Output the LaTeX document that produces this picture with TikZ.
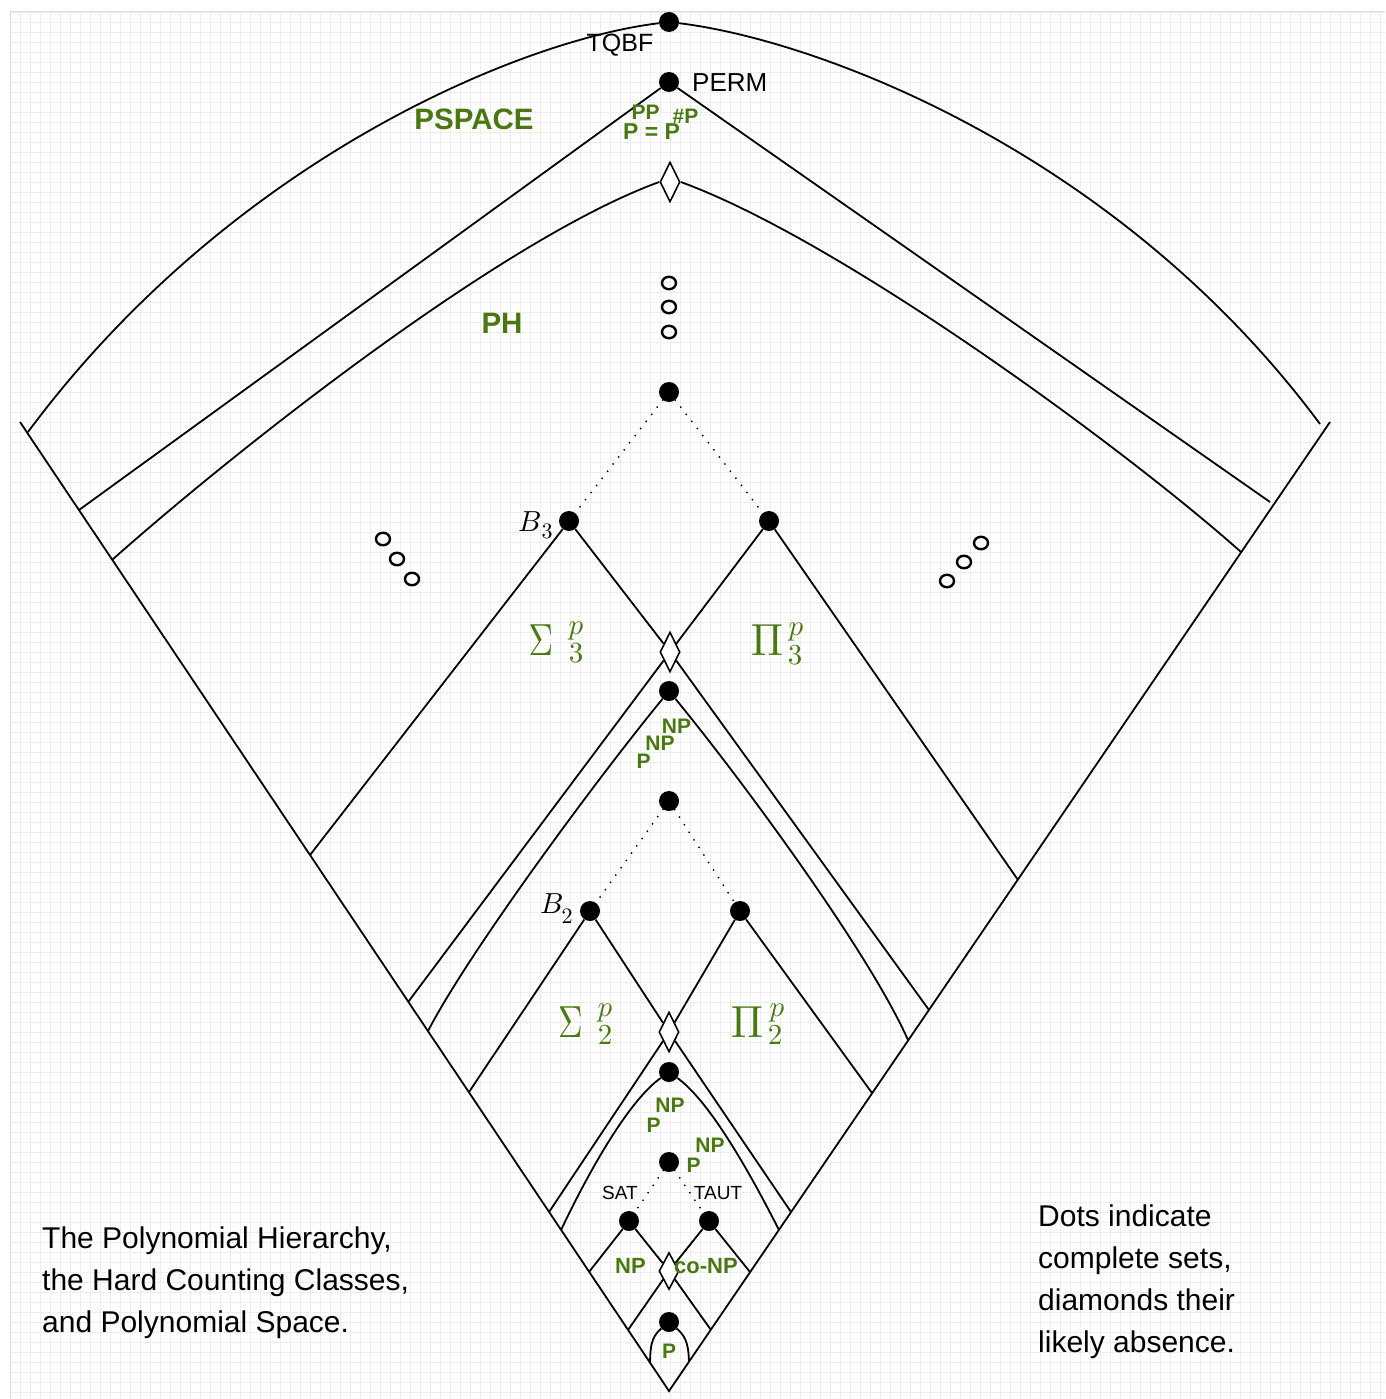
\documentclass[tikz,border=0pt]{standalone}
\usepackage{fontspec}
\setmainfont{Liberation Sans}
\usetikzlibrary{shapes.geometric}
\definecolor{clsgreen}{RGB}{73,120,17}
\begin{document}
\begin{tikzpicture}[x=1pt,y=-1pt,
  dot/.style={circle,fill=black,inner sep=0pt,minimum size=20pt},
  dia/.style={diamond,draw=black,fill=white,line width=1.6pt,inner sep=0pt,minimum width=20pt,minimum height=40pt},
  ring/.style={ellipse,draw=black,line width=2.4pt,inner sep=0pt,minimum width=14pt,minimum height=12.5pt},
  ln/.style={line width=1.8pt},
  dts/.style={line width=2pt,line cap=round,dash pattern=on 0pt off 9pt},
  gridc/.style={black!7,line width=0.9pt},
  lbl/.style={inner sep=0pt,anchor=base},
  cls/.style={inner sep=0pt,anchor=base,text=clsgreen,font=\bfseries\fontsize{21}{21}\selectfont},
  big/.style={inner sep=0pt,anchor=base,text=clsgreen,font=\bfseries\fontsize{29.5}{29.5}\selectfont},
  mth/.style={inner sep=0pt,anchor=base,text=clsgreen},
  scr/.style={inner sep=0pt,text=clsgreen},
  note/.style={inner sep=0pt,anchor=base west,font=\fontsize{30}{30}\selectfont}
]
% background and grid
\fill[white] (0,0) rectangle (1385,1399);
\useasboundingbox (0,0) rectangle (1385,1399);
\foreach \gx in {10,20,...,1380} \draw[gridc] (\gx,12) -- (\gx,1399);
\foreach \gy in {12,22,...,1392} \draw[gridc] (10,\gy) -- (1385,\gy);
\draw[black!13,line width=1pt] (10,1399) -- (10,12) -- (1385,12);

% nodes
\node[dot] (tqbf) at (669,22) {};
\node[dot] (perm) at (669,82) {};
\node[dia] (dtop) at (670,182) {};
\node[ring] (e1) at (669,283) {};
\node[ring] (e2) at (669,307) {};
\node[ring] (e3) at (669,332) {};
\node[ring] (l1) at (383,539) {};
\node[ring] (l2) at (397,559) {};
\node[ring] (l3) at (412,579) {};
\node[ring] (r1) at (981,543) {};
\node[ring] (r2) at (964,562) {};
\node[ring] (r3) at (947,581) {};
\node[dot] (phd) at (669,392) {};
\node[dot] (b3) at (569,521) {};
\node[dot] (pi3) at (769,521) {};
\node[dia] (d3) at (670,652) {};
\node[dot] (pnpnp) at (669,691) {};
\node[dot] (top2) at (669,801) {};
\node[dot] (b2) at (590,911) {};
\node[dot] (pi2) at (740,911) {};
\node[dia] (d2) at (669,1032) {};
\node[dot] (pnp) at (669,1072) {};
\node[dot] (pnp2) at (669,1162) {};
\node[dot] (sat) at (629,1221) {};
\node[dot] (taut) at (709,1221) {};
\node[dia,minimum height=37pt] (d1) at (669,1271) {};
\node[dot] (pd) at (669,1322) {};

% free ends
\coordinate (vL) at (20,422);
\coordinate (apex) at (669,1391);
\coordinate (vR) at (1330,422);
\coordinate (aL) at (28,432);
\coordinate (aR) at (1320,424);
\coordinate (pmL) at (79,510);
\coordinate (pmR) at (1270,502);
\coordinate (phL) at (112,560);
\coordinate (phR) at (1241,552);
\coordinate (b3L) at (310,855);
\coordinate (pi3R) at (1018,880);
\coordinate (d3L) at (408.5,1001.5);
\coordinate (d3R) at (929,1010);
\coordinate (cL) at (428,1031);
\coordinate (cR) at (908,1040);
\coordinate (b2L) at (469,1092);
\coordinate (pi2R) at (872,1093);
\coordinate (d2L) at (549,1212);
\coordinate (d2R) at (791,1212);
\coordinate (qL) at (561,1230);
\coordinate (qR) at (779,1230);
\coordinate (satL) at (589,1272);
\coordinate (tautR) at (750,1272);
\coordinate (d1L) at (628,1330);
\coordinate (d1R) at (711,1330);
\coordinate (pL) at (650,1362);
\coordinate (pR) at (689,1362);

% outer V
\draw[ln] (vL) -- (apex) -- (vR);
% PSPACE arc
\draw[ln] (aL) .. controls (230,160) and (520,40) .. (tqbf);
\draw[ln] (tqbf) .. controls (818,40) and (1118,152) .. (aR);
% PERM lines
\draw[ln] (perm) -- (pmL);
\draw[ln] (perm) -- (pmR);
% PH curves
\draw[ln] (dtop.west) .. controls (500,240) and (230,455) .. (phL);
\draw[ln] (dtop.east) .. controls (840,240) and (1123,447) .. (phR);
% level 3
\draw[dts] (phd) -- (b3);
\draw[dts] (phd) -- (pi3);
\draw[ln] (b3) -- (b3L);
\draw[ln] (b3) -- (d3);
\draw[ln] (pi3) -- (d3);
\draw[ln] (pi3) -- (pi3R);
\draw[ln] (d3) -- (d3L);
\draw[ln] (d3) -- (d3R);
\draw[ln] (pnpnp) .. controls (600,775) and (470,950) .. (cL);
\draw[ln] (pnpnp) .. controls (738,775) and (868,950) .. (cR);
% level 2
\draw[dts] (top2) -- (b2);
\draw[dts] (top2) -- (pi2);
\draw[ln] (b2) -- (b2L);
\draw[ln] (b2) -- (d2);
\draw[ln] (pi2) -- (d2);
\draw[ln] (pi2) -- (pi2R);
\draw[ln] (d2) -- (d2L);
\draw[ln] (d2) -- (d2R);
\draw[ln] (pnp) .. controls (630,1100) and (592,1165) .. (qL);
\draw[ln] (pnp) .. controls (708,1100) and (746,1165) .. (qR);
% level 1
\draw[dts] (pnp2) -- (sat);
\draw[dts] (pnp2) -- (taut);
\draw[ln] (sat) -- (satL);
\draw[ln] (sat) -- (d1);
\draw[ln] (taut) -- (d1);
\draw[ln] (taut) -- (tautR);
\draw[ln] (d1) -- (d1L);
\draw[ln] (d1) -- (d1R);
\draw[ln] (pd) to[out=-140,in=88] (pL);
\draw[ln] (pd) to[out=-40,in=92] (pR);

% labels
\node[lbl,font=\fontsize{25}{25}\selectfont] (tqbfl) at (620,52) {TQBF};
\node[lbl,anchor=base west,font=\fontsize{26}{26}\selectfont] (perml) at (692,92) {PERM};
\node[big] (pspace) at (474,130) {PSPACE};
\node[big] (phl) at (502,333) {PH};
\node[cls,font=\bfseries\fontsize{23}{23}\selectfont] (pe) at (651.5,140) {P = P};
\node[cls] (pes1) at (645.5,120) {PP};
\node[cls] (pes2) at (685.5,124) {\#P};
\node[lbl,anchor=base west] (b3l) at (518,531) {\scalebox{2.9}{$B$}};
\node[scr,text=black] (b3s) at (547,531) {\scalebox{2.2}{$3$}};
\node[lbl,anchor=base west] (b2l) at (540,913) {\scalebox{2.9}{$B$}};
\node[scr,text=black] (b2s) at (567,916) {\scalebox{2.2}{$2$}};
\node[mth] (sig3) at (541,655) {\scalebox{3.4}[4.5]{$\Sigma$}};
\node[scr] (sig3p) at (576,631) {\scalebox{2.9}{$p$}};
\node[scr] (sig3n) at (576,653) {\scalebox{2.9}{$3$}};
\node[mth] (pi3l) at (767,655) {\scalebox{4.3}[4.5]{$\Pi$}};
\node[scr] (pi3p) at (796,632) {\scalebox{2.9}{$p$}};
\node[scr] (pi3n) at (795,655) {\scalebox{2.9}{$3$}};
\node[mth] (sig2) at (570.5,1037) {\scalebox{3.4}[4.5]{$\Sigma$}};
\node[scr] (sig2p) at (605,1013) {\scalebox{2.9}{$p$}};
\node[scr] (sig2n) at (605,1035) {\scalebox{2.9}{$2$}};
\node[mth] (pi2l) at (747,1037) {\scalebox{4.3}[4.5]{$\Pi$}};
\node[scr] (pi2p) at (777,1013) {\scalebox{2.9}{$p$}};
\node[scr] (pi2n) at (775,1035) {\scalebox{2.9}{$2$}};
\node[cls] (x1) at (643.5,768) {P};
\node[cls] (x2) at (660,750) {NP};
\node[cls] (x3) at (676.5,733) {NP};
\node[cls] (y1) at (653.5,1132) {P};
\node[cls] (y2) at (670,1112) {NP};
\node[cls] (z1) at (693.5,1172) {P};
\node[cls] (z2) at (710,1152) {NP};
\node[lbl,font=\fontsize{19}{19}\selectfont] (satl) at (620,1199) {SAT};
\node[lbl,font=\fontsize{19}{19}\selectfont] (tautl) at (718,1199) {TAUT};
\node[cls,font=\bfseries\fontsize{22}{22}\selectfont] (npl) at (630.5,1273) {NP};
\node[cls,font=\bfseries\fontsize{22}{22}\selectfont] (conpl) at (706,1273) {co-NP};
\node[cls,font=\bfseries\fontsize{21}{21}\selectfont] (pl) at (669,1358) {P};

\node[note] (t1) at (42,1248) {The Polynomial Hierarchy,};
\node[note] (t2) at (42,1290) {the Hard Counting Classes,};
\node[note] (t3) at (42,1332) {and Polynomial Space.};
\node[note] (n1) at (1038,1226) {Dots indicate};
\node[note] (n2) at (1038,1268) {complete sets,};
\node[note] (n3) at (1038,1310) {diamonds their};
\node[note] (n4) at (1038,1352) {likely absence.};
\end{tikzpicture}
\end{document}
